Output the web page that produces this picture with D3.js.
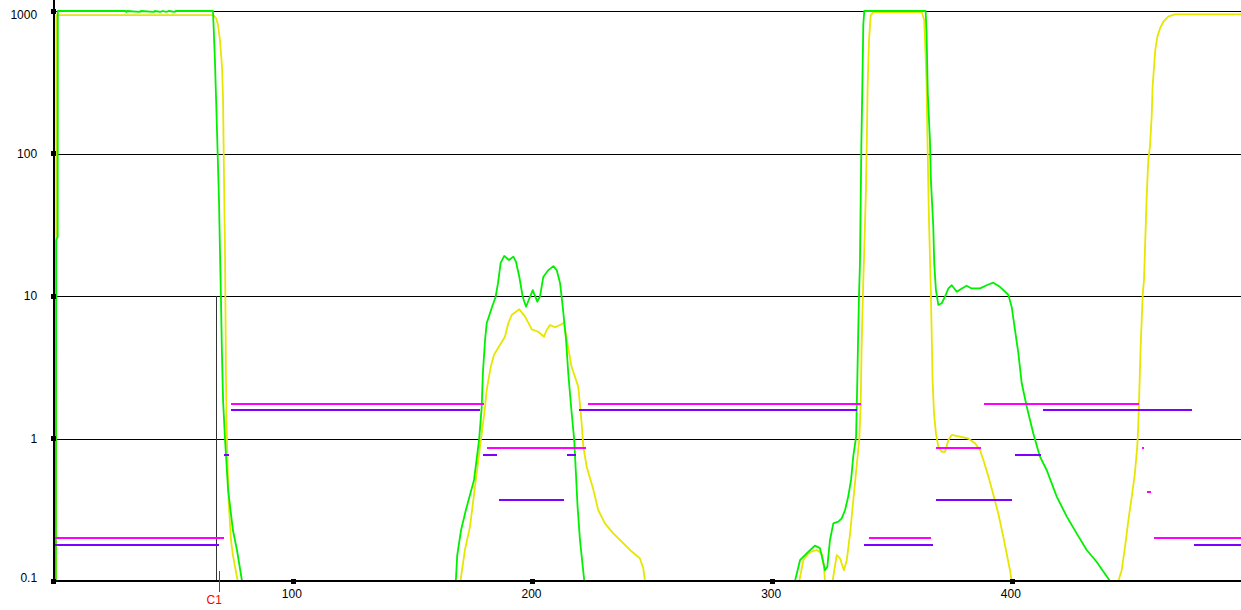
<!DOCTYPE html>
<html>
<head>
<meta charset="utf-8">
<script src="https://cdn.jsdelivr.net/npm/d3@7"></script>
<style>
  html, body { margin: 0; padding: 0; background: #ffffff; }
  svg { display: block; }
  text { font-family: "Liberation Sans", Arial, sans-serif; font-size: 12px; }
</style>
</head>
<body>
<svg id="chart" width="1241" height="610"></svg>
<script>
// ---------------- DATA ----------------
const xDomain = [0, 495.5];
const yDomain = [0.1, 1000];
const xTicks = [100, 200, 300, 400];
const xTickLabels = ["100", "200", "300", "400"];
const yTicks = [0.1, 1, 10, 100, 1000];
const yTickLabels = ["0.1", "1", "10", "100", "1000"];

// cursor C1
const cursorLabel = "C1";
const cursorX = 69.1;        // red marker position
const cursorLineX = 67.8;    // grey vertical line position
const cursorLineTop = 10;    // grey line reaches up to this value

// green curve [x, value]
const greenCurve = [
  [0.7,0.05],[0.9,0.1],[1.1,24.7],[1.7,26],[1.75,1000],
  [30.0,1000],[30.3,985],[30.6,1000],[36.0,985],[36.3,1000],[41.9,985],[42.2,1000],
  [44.5,985],[45.5,1000],[47,985],[48,1000],[50.6,985],[50.9,1000],[66.5,1000],
  [67.3,453],[67.8,237],[69.0,47],[69.4,21],[69.8,10],[70.2,4.18],[70.7,1.86],[71.5,1],
  [72.8,0.435],[74.8,0.228],[76.5,0.165],[78.6,0.1],[79.4,0.05],
  [167.0,0.05],[167.8,0.1],[168.4,0.152],[170.0,0.228],[172.0,0.315],[175.4,0.512],[177.5,0.975],
  [178.6,1.66],[179.1,2.88],[180.0,4.91],[180.7,6.47],[182.1,7.6],[182.9,8.37],[184.4,9.84],
  [185.4,12.3],[186.5,17.1],[188.0,19.1],[190.0,17.9],[191.8,18.9],[192.9,17.4],[194.3,13.6],
  [195.7,9.89],[197.1,8.41],[198.5,9.64],[199.9,11.0],[201.8,9.12],[202.9,9.89],[204.3,13.6],
  [206.4,15.2],[208.5,16.2],[209.9,15.2],[211.3,12.3],[212.4,8.41],[213.8,4.91],[214.7,2.88],
  [215.9,1.67],[217.2,0.975],[217.9,0.573],[218.6,0.332],[219.6,0.194],[221.4,0.1],[222.2,0.05],
  [308.5,0.05],[309.3,0.1],[311.4,0.140],[314.2,0.156],[317.6,0.177],[319.7,0.170],[320.9,0.140],
  [321.8,0.119],[322.8,0.126],[323.9,0.194],[325.3,0.254],[327.4,0.261],[328.8,0.275],[330.2,0.315],
  [331.5,0.391],[332.7,0.512],[333.6,0.745],[334.8,1.03],[335.3,2.57],[335.7,5.77],[336.0,9.89],
  [336.4,16.9],[336.7,44.7],[337.0,118],[337.4,294],[337.8,798],[338.2,1000],[363.8,1000],
  [364.2,698],[364.7,264],[365.6,124],[366.0,65.2],[367.0,30.6],[367.4,16.9],[368.1,11.0],
  [369.1,8.65],[370.5,8.89],[371.9,9.89],[373.3,11.3],[374.7,11.9],[376.8,10.7],[378.9,11.3],
  [380.9,11.8],[383.0,11.3],[386.5,11.3],[389.3,11.9],[392.0,12.4],[394.8,11.6],[398.3,10.2],
  [399.7,8.41],[401.1,5.77],[402.5,3.96],[403.9,2.44],[406.0,1.67],[408.7,1.09],[411.5,0.745],
  [414.3,0.601],[418.5,0.391],[422.7,0.283],[426.8,0.216],[431.0,0.165],[435.2,0.136],[440.7,0.1],[442.0,0.05]
];

// yellow curve [x, value]
const yellowCurve = [
  [1.0,0.05],[1.15,937],[66.6,937],[67.8,893],[68.6,798],[69.4,626],[70.3,398],[70.7,237],
  [71.1,65],[71.5,21],[71.7,7.97],[71.9,2.79],[72.3,1],[73.0,0.37],[74.0,0.194],[74.8,0.152],
  [76.8,0.1],[77.5,0.05],
  [169.2,0.05],[169.8,0.102],[171.6,0.165],[173.7,0.240],[175.1,0.370],[176.5,0.570],[177.9,0.876],
  [179.0,1.21],[180.0,1.67],[180.7,2.19],[181.4,2.57],[182.4,3.19],[183.7,3.85],[186.2,4.53],
  [188.3,5.18],[189.7,6.43],[191.1,7.36],[194.3,8.06],[196.7,7.16],[199.5,5.83],[202.2,5.61],
  [204.6,5.18],[205.7,5.77],[207.1,6.26],[209.2,6.03],[211.3,6.26],[212.9,6.50],[214.1,4.91],
  [216.1,3.19],[218.9,2.31],[220.3,1.28],[221.0,0.876],[222.4,0.634],[225.2,0.436],[227.2,0.315],
  [230.0,0.254],[233.5,0.216],[237.0,0.189],[241.2,0.161],[244.6,0.144],[246.0,0.123],[246.7,0.1],[247.3,0.05],
  [310.5,0.05],[311.1,0.1],[312.8,0.140],[314.8,0.156],[316.3,0.161],[318.4,0.165],[320.4,0.156],
  [321.4,0.126],[321.8,0.1],[322.2,0.05],[324.5,0.05],[325.0,0.1],[326.7,0.152],[328.1,0.144],
  [329.7,0.119],[330.9,0.140],[332.3,0.216],[333.9,0.412],[335.0,0.634],[336.1,0.975],[336.7,1.67],
  [337.1,4.41],[337.8,12.9],[338.2,21.0],[338.9,55.4],[339.3,131],[339.6,294],[340.2,626],
  [340.9,937],[342.0,979],[362.2,979],[363.2,865],[363.6,593],[364.2,311],[364.4,181],[364.9,61.8],
  [365.2,34.1],[365.9,12.3],[366.3,5.77],[366.7,2.57],[367.3,1.50],[368.1,1.09],[369.1,0.876],
  [370.5,0.807],[371.9,0.807],[373.3,0.975],[374.7,1.06],[378.1,1.03],[381.6,1.00],[384.4,0.925],
  [386.5,0.831],[387.9,0.706],[390.0,0.540],[392.1,0.402],[394.1,0.299],[396.2,0.205],[397.6,0.156],
  [399.0,0.119],[399.7,0.1],[400.3,0.05],
  [443.6,0.05],[444.2,0.1],[445.6,0.119],[447.0,0.174],[448.4,0.268],[449.8,0.391],[451.1,0.570],
  [452.1,0.876],[452.5,1.21],[452.9,1.96],[453.5,4.41],[454.4,10.4],[454.9,12.9],[456.0,48.5],
  [456.7,90],[457.4,112],[458.1,181],[458.5,294],[459.1,406],[459.6,532],[460.5,661],[461.6,757],
  [463.0,841],[465.0,912],[467.8,948],[495.5,948]
];

// horizontal segments [xStart, xEnd, value]
const magentaSegments = [
  [0, 71.1, 0.2], [74.0, 179.6, 1.75], [180.8, 222.0, 0.86], [222.9, 336.7, 1.75],
  [340.2, 366.0, 0.2], [368.1, 386.9, 0.86], [388.1, 452.8, 1.75], [454.1, 454.8, 0.86],
  [456.2, 457.8, 0.42], [459.1, 495.5, 0.2]
];
const purpleSegments = [
  [0, 69.0, 0.18], [74.0, 177.9, 1.58], [71.1, 73.2, 0.77], [179.1, 185.0, 0.77],
  [185.8, 212.9, 0.37], [214.2, 217.9, 0.77], [219.2, 335.0, 1.58], [338.1, 366.9, 0.18],
  [368.1, 399.8, 0.37], [401.1, 411.9, 0.77], [412.8, 474.9, 1.58], [475.8, 495.5, 0.18]
];

// ---------------- DRAW ----------------
const W = 1241, H = 610;
const svg = d3.select("#chart");
const x = d3.scaleLinear().domain(xDomain).range([53.6, 1241.3]);
const y = d3.scaleLog().domain(yDomain).range([581, 11]);

const plotLeft = x(xDomain[0]), plotRight = W;
const plotTop = y(yDomain[1]), plotBottom = y(yDomain[0]);

svg.append("defs").append("clipPath").attr("id", "plotClip")
  .append("rect").attr("x", plotLeft).attr("y", 0)
  .attr("width", plotRight - plotLeft).attr("height", plotBottom);

// grid lines
svg.append("g").selectAll("line")
  .data(yTicks.filter(t => t !== yDomain[0]))
  .join("line")
  .attr("x1", plotLeft).attr("x2", plotRight)
  .attr("y1", d => Math.round(y(d)) + 0.5).attr("y2", d => Math.round(y(d)) + 0.5)
  .attr("stroke", "#000").attr("stroke-width", 1)
  .attr("shape-rendering", "crispEdges");

// cursor grey line
svg.append("line")
  .attr("x1", Math.round(x(cursorLineX)) + 0.5).attr("x2", Math.round(x(cursorLineX)) + 0.5)
  .attr("y1", y(cursorLineTop)).attr("y2", plotBottom)
  .attr("stroke", "#333").attr("stroke-width", 1)
  .attr("shape-rendering", "crispEdges");

const line = d3.line().x(d => x(d[0])).y(d => y(d[1]));
const curves = svg.append("g").attr("clip-path", "url(#plotClip)");
curves.append("path").datum(yellowCurve).attr("d", line)
  .attr("fill", "none").attr("stroke", "#e6e600").attr("stroke-width", 1.8)
  .attr("stroke-linejoin", "round");
curves.append("path").datum(greenCurve).attr("d", line)
  .attr("fill", "none").attr("stroke", "#00f000").attr("stroke-width", 1.8)
  .attr("stroke-linejoin", "round");

// segments
const segs = svg.append("g").attr("clip-path", "url(#plotClip)");
segs.selectAll("line.p").data(purpleSegments).join("line").attr("class", "p")
  .attr("x1", d => x(d[0])).attr("x2", d => x(d[1]))
  .attr("y1", d => Math.round(y(d[2]))).attr("y2", d => Math.round(y(d[2])))
  .attr("stroke", "#8000ff").attr("stroke-width", 2)
  .attr("shape-rendering", "crispEdges");
segs.selectAll("line.m").data(magentaSegments).join("line").attr("class", "m")
  .attr("x1", d => x(d[0])).attr("x2", d => x(d[1]))
  .attr("y1", d => Math.round(y(d[2]))).attr("y2", d => Math.round(y(d[2])))
  .attr("stroke", "#ff00ff").attr("stroke-width", 2)
  .attr("shape-rendering", "crispEdges");

// axes
svg.append("line").attr("x1", plotLeft).attr("x2", plotLeft).attr("y1", 0).attr("y2", plotBottom + 1)
  .attr("stroke", "#000").attr("stroke-width", 2).attr("shape-rendering", "crispEdges");
svg.append("line").attr("x1", plotLeft - 1).attr("x2", plotRight).attr("y1", plotBottom).attr("y2", plotBottom)
  .attr("stroke", "#000").attr("stroke-width", 2).attr("shape-rendering", "crispEdges");

// tick squares
svg.append("g").selectAll("rect").data(xTicks).join("rect")
  .attr("x", d => x(d) - 2.5).attr("y", plotBottom - 2.5).attr("width", 5).attr("height", 5)
  .attr("fill", "#000").attr("shape-rendering", "crispEdges");
svg.append("g").selectAll("rect").data(yTicks).join("rect")
  .attr("x", plotLeft - 2.5).attr("y", d => y(d) - 2.5).attr("width", 5).attr("height", 5)
  .attr("fill", "#000").attr("shape-rendering", "crispEdges");

// tick labels
svg.append("g").selectAll("text").data(xTicks).join("text")
  .attr("x", d => x(d) - 1.5).attr("y", plotBottom + 17)
  .attr("text-anchor", "middle").attr("fill", "#000")
  .text((d, i) => xTickLabels[i]);
svg.append("g").selectAll("text").data(yTicks).join("text")
  .attr("x", plotLeft - 16.5)
  .attr("y", d => Math.min(Math.max(y(d), plotTop + 3.5), plotBottom - 3.5))
  .attr("dy", "0.36em")
  .attr("text-anchor", "end").attr("fill", "#000")
  .text((d, i) => yTickLabels[i]);

// C1 marker
svg.append("line")
  .attr("x1", Math.round(x(cursorX)) + 0.5).attr("x2", Math.round(x(cursorX)) + 0.5)
  .attr("y1", plotBottom - 10).attr("y2", plotBottom + 11)
  .attr("stroke", "#ff0000").attr("stroke-width", 1).attr("shape-rendering", "crispEdges");
svg.append("text")
  .attr("x", x(cursorX) - 5).attr("y", plotBottom + 23)
  .attr("text-anchor", "middle").attr("fill", "#ff0000")
  .text(cursorLabel);
</script>
</body>
</html>
